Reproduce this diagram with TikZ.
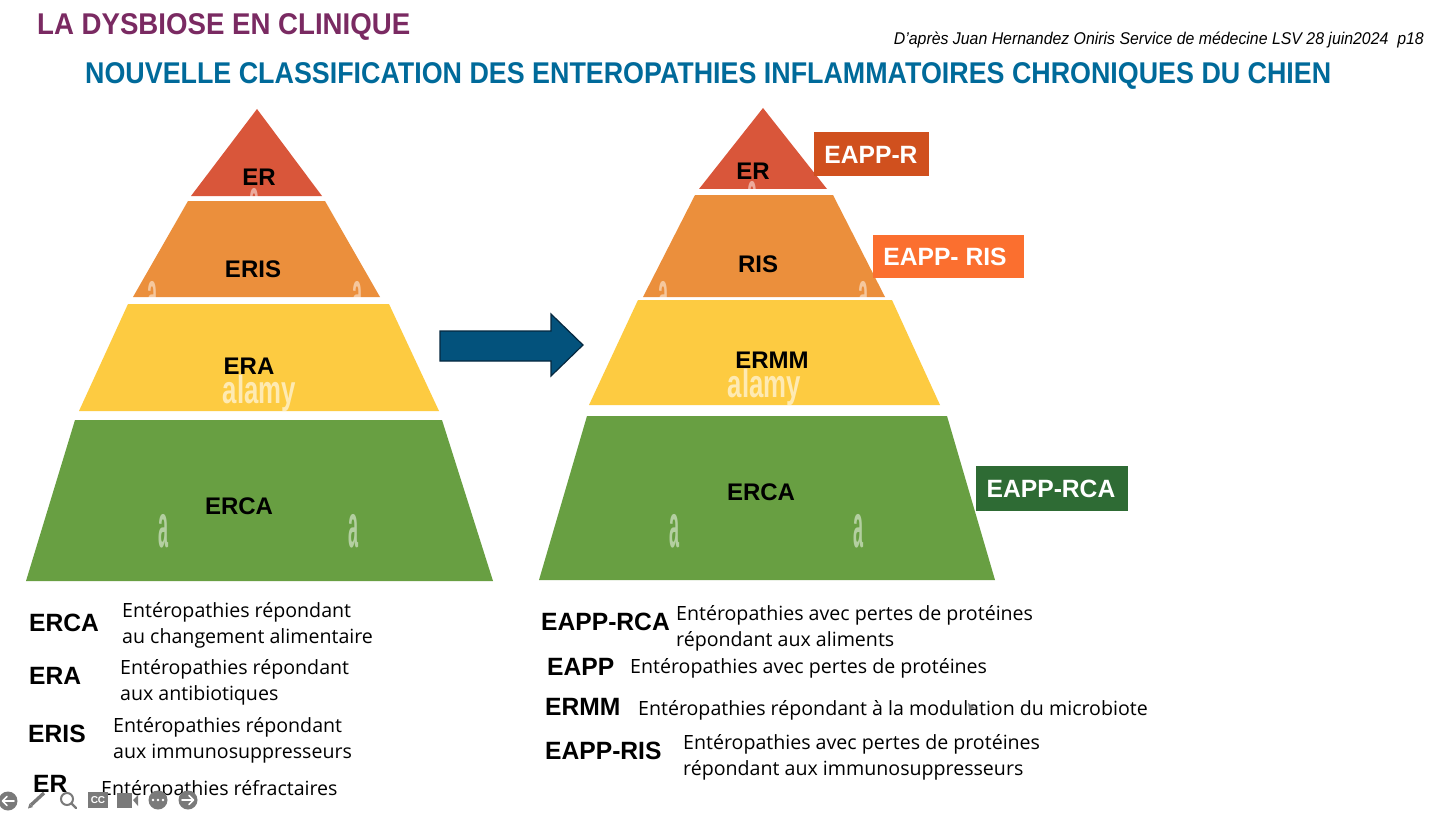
\documentclass[tikz,border=0pt]{standalone}
\usepackage{fontspec}
\setmainfont{Open Sans}
\newfontfamily\headfont{Liberation Sans}
\newfontfamily\bodyfont{Open Sans}
\definecolor{cRed}{HTML}{D9563A}
\definecolor{cOrange}{HTML}{EB8F3C}
\definecolor{cYellow}{HTML}{FDCB41}
\definecolor{cGreen}{HTML}{689F42}
\definecolor{cTitle}{HTML}{7A2A62}
\definecolor{cBlue}{HTML}{006A9A}
\definecolor{cArrow}{HTML}{03527C}
\definecolor{cArrowEdge}{HTML}{06283F}
\definecolor{cIcon}{HTML}{7A7A7A}
\definecolor{tagR}{HTML}{D0501E}
\definecolor{tagRIS}{HTML}{FB6F2F}
\definecolor{tagRCA}{HTML}{2E6B34}
\newcommand{\wa}{\scalebox{.6}[2.05]{a}}
\newcommand{\walamy}{\scalebox{.86}[1.31]{alamy}}
\tikzset{
  x=1pt,y=-1pt,
  lay/.style={font=\headfont\bfseries\fontsize{24}{26}\selectfont,text=black,inner sep=0pt},
  tag/.style={font=\headfont\bfseries\fontsize{25}{27}\selectfont,text=white,anchor=center,inner sep=0pt},
  abbr/.style={font=\headfont\bfseries\fontsize{25}{27}\selectfont,text=black,anchor=west,inner sep=0pt},
  desc/.style={font=\bodyfont\fontsize{19.6}{26}\selectfont,text=black,anchor=west,align=left,inner sep=0pt},
  wm/.style={font=\headfont\bfseries\fontsize{30}{30}\selectfont,inner sep=0pt,text=white,text opacity=.5},
  wmbig/.style={font=\headfont\bfseries\fontsize{30}{30}\selectfont,inner sep=0pt,text=white,text opacity=.6},
  icon/.style={fill=cIcon,draw=none},
  iconline/.style={draw=cIcon,line width=2.2pt,line cap=round},
  arr/.style={draw=white,line width=1.7pt,line cap=round,line join=round}
}
\begin{document}
\begin{tikzpicture}
\useasboundingbox[fill=white] (0,0) rectangle (1439,813);
% headings
\node[anchor=west,inner sep=0pt,text=cTitle,font=\headfont\bfseries\fontsize{30}{32}\selectfont] (h1) at (37,26.5) {\scalebox{.921}[1]{LA DYSBIOSE EN CLINIQUE}};
\node[anchor=west,inner sep=0pt,text=cBlue,font=\headfont\bfseries\fontsize{30}{32}\selectfont] (h2) at (85,75.5) {\scalebox{.895}[1]{NOUVELLE CLASSIFICATION DES ENTEROPATHIES INFLAMMATOIRES CHRONIQUES DU CHIEN}};
\node[anchor=east,inner sep=0pt,font=\headfont\itshape\fontsize{17}{18}\selectfont] (src) at (1424,40) {\scalebox{.933}[1]{D’après Juan Hernandez Oniris Service de médecine LSV 28 juin2024~~p18}};
% left pyramid
\fill[cRed] (257,109) -- (322,196) -- (191,196) -- cycle;
\fill[cOrange] (188,201) -- (325,201) -- (380,297) -- (133,297) -- cycle;
\fill[cYellow] (128,304) -- (389,304) -- (439,411) -- (79,411) -- cycle;
\fill[cGreen] (75,420) -- (442,420) -- (493,581) -- (26,581) -- cycle;
% right pyramid
\fill[cRed] (763,108) -- (827,189) -- (699,189) -- cycle;
\fill[cOrange] (695,195) -- (833,195) -- (885,297) -- (643,297) -- cycle;
\fill[cYellow] (638,300) -- (892,300) -- (940,405) -- (589,405) -- cycle;
\fill[cGreen] (587,416) -- (947,416) -- (995,580) -- (539,580) -- cycle;
% watermarks, cut off by the lower edge of their layer
\begin{scope}
\clip (180,186) rectangle (340,196) (690,180) rectangle (830,189)
      (130,270) rectangle (385,297) (640,270) rectangle (890,297);
\node[wm] (w11) at (255,205) {\wa};
\node[wm] (w12) at (752,198) {\wa};
\node[wm] (w1) at (153,298) {\wa};
\node[wm] (w2) at (358,298) {\wa};
\node[wm] (w6) at (663,298) {\wa};
\node[wm] (w7) at (863,298) {\wa};
\end{scope}
\node[wmbig] (w3) at (259.5,393.5) {\walamy};
\node[wmbig] (w8) at (764.5,387.5) {\walamy};
\node[wm] (w4) at (164,531) {\wa};
\node[wm] (w5) at (353,531) {\wa};
\node[wm] (w9) at (674,531) {\wa};
\node[wm] (w10) at (858,531) {\wa};
% layer labels
\node[lay] (l1) at (259,177) {ER};
\node[lay] (l2) at (253,269) {ERIS};
\node[lay] (l3) at (249,366) {ERA};
\node[lay] (l4) at (239,506) {ERCA};
\node[lay] (r1) at (753,171) {ER};
\node[lay] (r2) at (758,264) {RIS};
\node[lay] (r3) at (772,360) {ERMM};
\node[lay] (r4) at (761,492) {ERCA};
% arrow
\draw[draw=cArrowEdge,fill=cArrow,line width=1.2pt,line join=miter] (440,331) -- (551,331) -- (551,314) -- (583,345) -- (551,376) -- (551,361) -- (440,361) -- cycle;
% tags
\fill[tagR] (814,132) rectangle (929,176);
\node[tag] (t1) at (871,155) {\scalebox{.985}[1]{EAPP-R}};
\fill[tagRIS] (873,235) rectangle (1024,278);
\node[tag] (t2) at (945,257) {\scalebox{.985}[1]{EAPP- RIS}};
\fill[tagRCA] (976,466) rectangle (1128,511);
\node[tag] (t3) at (1051,489) {\scalebox{.985}[1]{EAPP-RCA}};
% left legend
\node[abbr] (a1) at (29,623) {\scalebox{.985}[1]{ERCA}};
\node[desc] (d1) at (122,625) {Entéropathies répondant\\au changement alimentaire};
\node[abbr] (a2) at (29,676) {\scalebox{.985}[1]{ERA}};
\node[desc] (d2) at (120,682) {Entéropathies répondant\\aux antibiotiques};
\node[abbr] (a3) at (28,734) {\scalebox{.985}[1]{ERIS}};
\node[desc] (d3) at (113,740) {Entéropathies répondant\\aux immunosuppresseurs};
\node[abbr] (a4) at (33,784) {\scalebox{.985}[1]{ER}};
\node[desc] (d4) at (101,790) {Entéropathies réfractaires};
% right legend
\node[abbr] (a5) at (541,622) {\scalebox{.985}[1]{EAPP-RCA}};
\node[desc] (d5) at (676,628) {Entéropathies avec pertes de protéines\\répondant aux aliments};
\node[abbr] (a6) at (547,667) {\scalebox{.985}[1]{EAPP}};
\node[desc] (d6) at (630,668) {Entéropathies avec pertes de protéines};
\node[abbr] (a7) at (545,707) {\scalebox{.985}[1]{ERMM}};
\node[desc] (d7) at (638,710) {Entéropathies répondant à la modulation du microbiote};
\node[abbr] (a8) at (545,751) {\scalebox{.985}[1]{EAPP-RIS}};
\node[desc] (d8) at (683,757) {Entéropathies avec pertes de protéines\\répondant aux immunosuppresseurs};
% pointer
\fill[cIcon] (968,703) -- (975,708) -- (971,709) -- (970,714) -- cycle;
% toolbar
\fill[icon] (8,801) circle (9.5);
\draw[arr] (14,801) -- (3,801) (7,796.5) -- (2.5,801) -- (7,805.5);
\draw[iconline,line width=3.4pt,line cap=butt] (31,805) -- (44,793);
\fill[cIcon] (28,808.5) -- (29.5,803.5) -- (33,807) -- cycle;
\draw[iconline,line width=2pt] (67,799) circle (6);
\draw[iconline] (71.5,803.5) -- (76,808);
\fill[icon] (88,792) rectangle (108,808);
\node[inner sep=0pt,text=white,font=\headfont\bfseries\fontsize{10}{10}\selectfont] (cc) at (98,800) {CC};
\fill[icon] (117,793) rectangle (132,808);
\fill[icon] (133,800) -- (138,795) -- (138,806) -- cycle;
\fill[icon] (158,800) circle (9.5);
\fill[white] (153,800) circle (1.4) (158,800) circle (1.4) (163,800) circle (1.4);
\fill[icon] (188,800) circle (9.5);
\draw[arr] (182,800) -- (193,800) (189,795.5) -- (193.5,800) -- (189,804.5);
\end{tikzpicture}
\end{document}
